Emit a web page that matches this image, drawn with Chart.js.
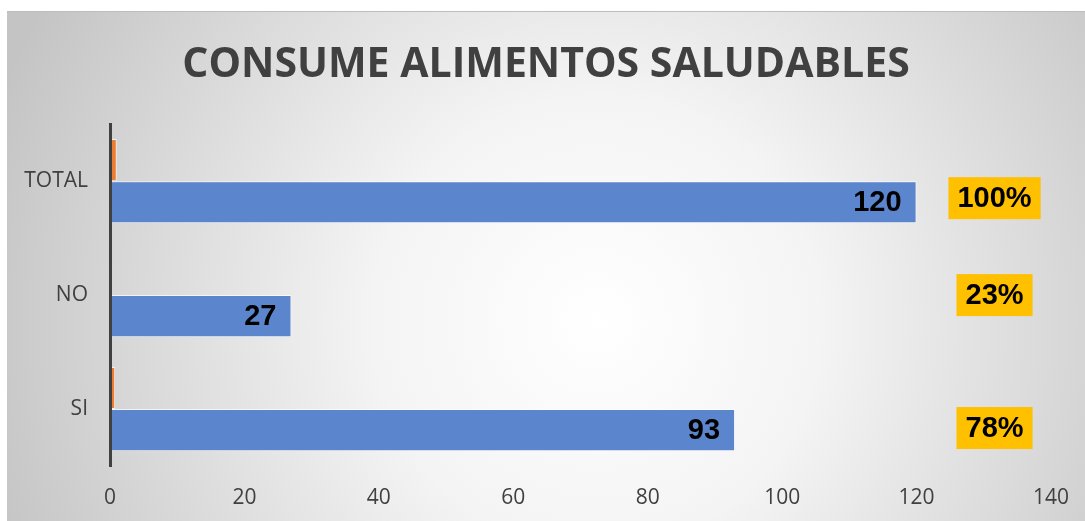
<!DOCTYPE html>
<html>
<head>
<meta charset="utf-8">
<script src="https://cdn.jsdelivr.net/npm/chart.js@4/dist/chart.umd.min.js"></script>
<style>
  body { margin: 0; background: #fff; }
  #wrap { position: absolute; left: 7px; top: 11px; width: 1078px; height: 510px; }
</style>
</head>
<body>
<div id="wrap"><canvas id="grafico" width="1078" height="510"></canvas></div>
<script>
const categorias = ["TOTAL", "NO", "SI"];
const cantidades = [120, 27, 93];
const porcentajes = [1, 0.225, 0.775];
const etiquetasPct = ["100%", "23%", "78%"];
const ejeMax = 140;
const ejePaso = 20;

// fondo con degradado radial, como en el original
const fondo = {
  id: "fondo",
  beforeDraw(chart) {
    const { ctx, width, height } = chart;
    const g = ctx.createRadialGradient(590, 310, 0, 590, 310, 640);
    g.addColorStop(0, "#ffffff");
    g.addColorStop(0.35, "#f4f4f4");
    g.addColorStop(1, "#c4c4c4");
    ctx.save();
    ctx.fillStyle = g;
    ctx.fillRect(0, 0, width, height);
    ctx.fillStyle = "#bdbdbd";
    ctx.fillRect(0, 0, width, 1);
    ctx.restore();
  }
};

// etiquetas de valores y cajas de porcentaje
const etiquetas = {
  id: "etiquetas",
  afterDatasetsDraw(chart) {
    const ctx = chart.ctx;
    const x = chart.scales.x;
    const y = chart.scales.y;
    ctx.save();
    ctx.font = "bold 29px 'Liberation Sans', Arial, sans-serif";
    ctx.textBaseline = "middle";

    const meta = chart.getDatasetMeta(1);
    meta.data.forEach((bar, i) => {
      ctx.fillStyle = "#000";
      ctx.textAlign = "right";
      ctx.fillText(cantidades[i], bar.x - 15, bar.y + 1);
    });

    const desplaz = [17, 0, 19];
    etiquetasPct.forEach((txt, i) => {
      const cx = x.getPixelForValue(131.6);
      const cy = y.getPixelForValue(i) + desplaz[i];
      const w = ctx.measureText(txt).width + 18;
      const h = 42;
      ctx.fillStyle = "#FFC000";
      ctx.fillRect(cx - w / 2, cy - h / 2, w, h);
      ctx.fillStyle = "#000";
      ctx.textAlign = "center";
      ctx.fillText(txt, cx, cy + 1);
    });
    ctx.restore();
  }
};

const ctx = document.getElementById("grafico").getContext("2d");
new Chart(ctx, {
  type: "bar",
  data: {
    labels: categorias,
    datasets: [
      {
        label: "Porcentaje",
        data: porcentajes,
        backgroundColor: "#ED7D31",
        borderColor: "rgba(255,255,255,0.7)",
        borderWidth: 1
      },
      {
        label: "Cantidad",
        data: cantidades,
        backgroundColor: "#5B85CD",
        borderColor: "rgba(255,255,255,0.7)",
        borderWidth: 1
      }
    ]
  },
  options: {
    indexAxis: "y",
    responsive: false,
    animation: false,
    devicePixelRatio: 1,
    categoryPercentage: 0.74,
    barPercentage: 1,
    layout: { padding: 0 },
    plugins: {
      legend: { display: false },
      tooltip: { enabled: false },
      title: {
        display: true,
        text: "CONSUME ALIMENTOS SALUDABLES",
        color: "#404040",
        font: { family: "'Open Sans', sans-serif", size: 41, weight: "bold" },
        padding: { top: 30, bottom: 34 }
      }
    },
    scales: {
      x: {
        min: 0,
        max: ejeMax,
        ticks: {
          stepSize: ejePaso,
          color: "#404040",
          padding: 19,
          font: { family: "'Open Sans', sans-serif", size: 21 }
        },
        grid: { display: false, drawTicks: false },
        border: { display: false },
        afterFit(s) { s.height = 55; s.paddingRight = 34; }
      },
      y: {
        ticks: {
          color: "#404040",
          padding: 22,
          font: { family: "'Open Sans', sans-serif", size: 21 }
        },
        grid: { display: false, drawTicks: false },
        border: { display: true, color: "#404040", width: 3, z: 1 },
        afterFit(s) { s.width = 103; }
      }
    }
  },
  plugins: [fondo, etiquetas]
});
</script>
</body>
</html>
